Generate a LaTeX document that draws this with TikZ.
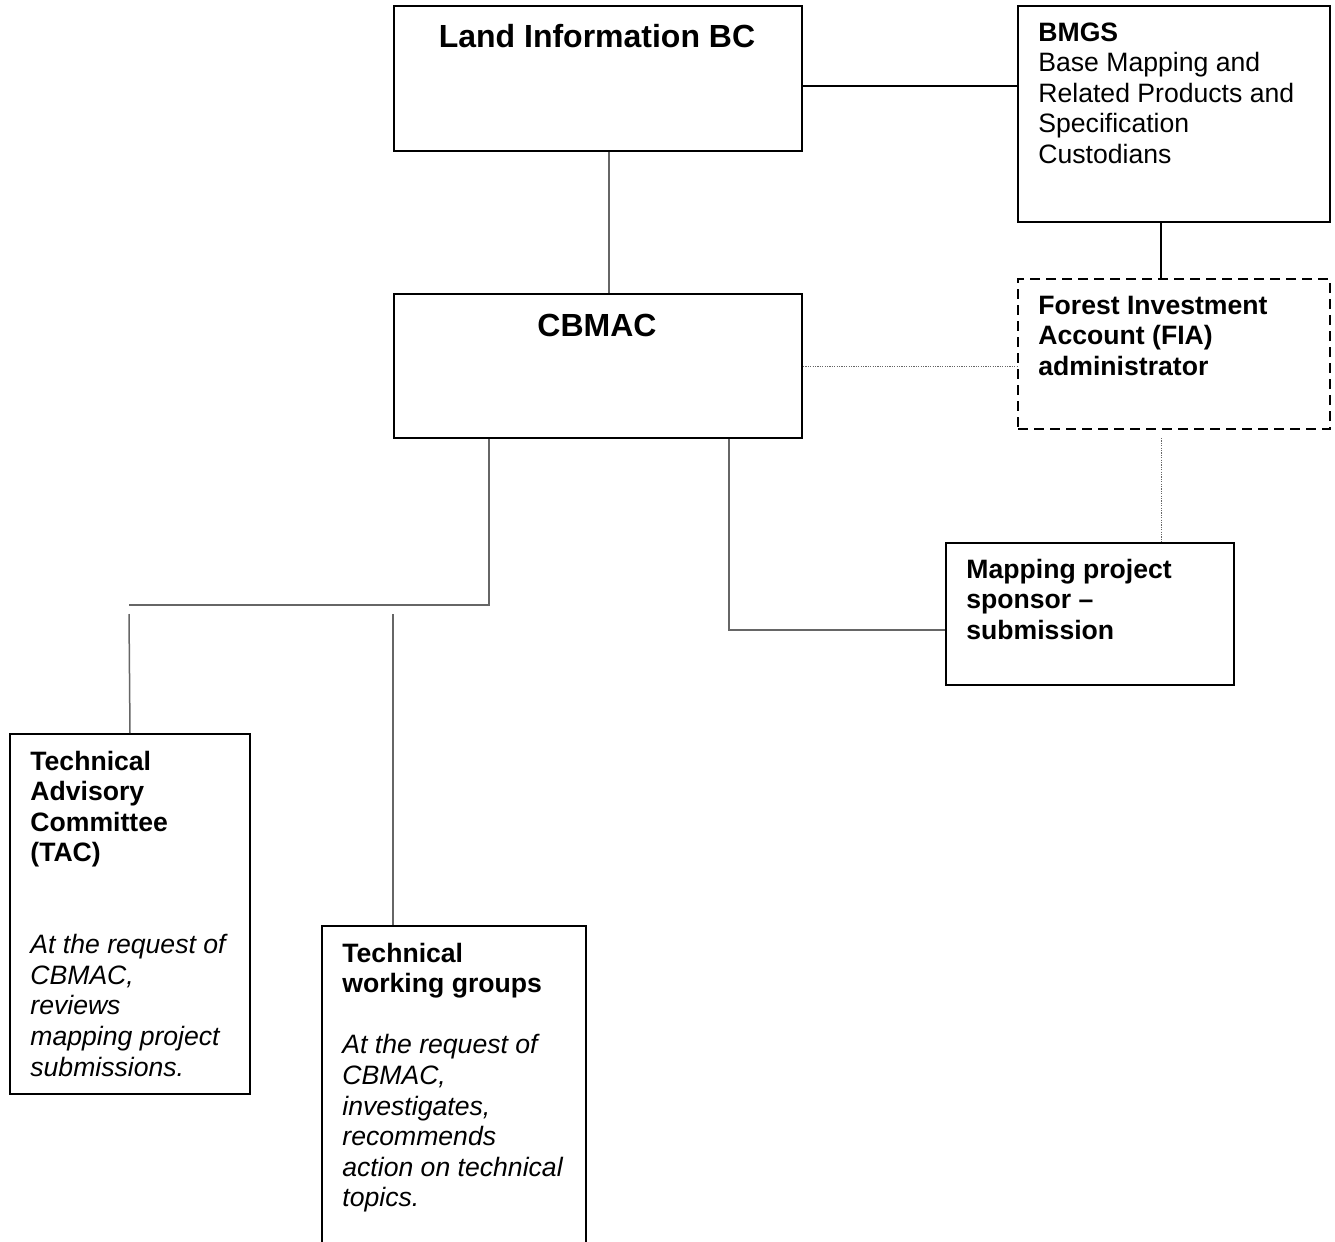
\documentclass[tikz,border=0pt]{standalone}
\usepackage{fontspec}
\setmainfont{Liberation Sans}
\begin{document}
\begin{tikzpicture}[x=0.5pt,y=-0.5pt,
  box/.style={draw=black, line width=1pt, rectangle, anchor=north west, inner sep=0pt},
  dbox/.style={box, dash pattern=on 5pt off 3pt},
  conn/.style={draw=black!60, line width=0.75pt},
  bconn/.style={draw=black, line width=0.9pt},
  dconn/.style={draw=black!60, line width=0.5pt, dash pattern=on 0.6pt off 0.6pt},
  hdr/.style={anchor=base west, inner sep=0pt, align=left, font=\fontsize{13.3}{15.3}\selectfont\bfseries},
  body/.style={anchor=base west, inner sep=0pt, align=left, font=\fontsize{13.3}{15.3}\selectfont},
  ibody/.style={anchor=base west, inner sep=0pt, align=left, font=\fontsize{13.3}{15.3}\selectfont\itshape},
  ttl/.style={anchor=base, inner sep=0pt, font=\fontsize{16}{19}\selectfont\bfseries}]
\clip (0,0) rectangle (1335,1242);
\fill[white] (0,0) rectangle (1335,1242);

% boxes (text nodes are anchored at the baseline of their LAST line)
\node[box, minimum width=204pt, minimum height=72.5pt] (libc) at (393,5) {};
\node[ttl] (libct) at (597,47) {Land Information BC};

\node[box, minimum width=156pt, minimum height=108pt] (bmgs) at (1017,5) {};
\node[hdr] (bmgst) at (1038,41) {BMGS};
\node[body] (bmgsb) at (1038,163.4) {Base Mapping and\\Related Products and\\Specification\\Custodians};

\node[box, minimum width=204pt, minimum height=72pt] (cbmac) at (393,293) {};
\node[ttl] (cbmact) at (597,336) {CBMAC};

\node[dbox, minimum width=156pt, minimum height=75pt] (fia) at (1017,278) {};
\node[hdr] (fiat) at (1038,375.2) {Forest Investment\\Account (FIA)\\administrator};

\node[box, minimum width=144pt, minimum height=71pt] (map) at (945,542) {};
\node[hdr] (mapt) at (966,639.2) {Mapping project\\sponsor --\\submission};

\node[box, minimum width=120pt, minimum height=180pt] (tac) at (9,733) {};
\node[hdr] (tact) at (30,861.8) {Technical\\Advisory\\Committee\\(TAC)};
\node[ibody] (tacb) at (30,1076) {At the request of\\CBMAC,\\reviews\\mapping project\\submissions.};

\node[box, minimum width=132pt, minimum height=175pt] (twg) at (321,925) {};
\node[hdr] (twgt) at (342,992.6) {Technical\\working groups};
\node[ibody] (twgb) at (342,1206.8) {At the request of\\CBMAC,\\investigates,\\recommends\\action on technical\\topics.};

% connectors
\coordinate (k1) at (0,86);
\draw[bconn] (libc.east |- k1) -- (bmgs.west |- k1);
\coordinate (k2) at (609,0);
\draw[conn] (libc.south -| k2) -- (cbmac.north -| k2);
\coordinate (k3) at (1161,0);
\draw[bconn] (bmgs.south -| k3) -- (fia.north -| k3);
\draw[dconn] (cbmac.east) -- (cbmac.east -| fia.west);
\draw[dconn, shorten <=4pt] (fia.south -| k3) -- (map.north -| k3);
\coordinate (k4) at (729,630);
\draw[conn] (cbmac.south -| k4) |- (map.west |- k4);
\coordinate (k5) at (489,605);
\coordinate (k6) at (129,605);
\draw[conn] (cbmac.south -| k5) -- (k5) -- (k6);
\coordinate (k7) at (129,614);
\draw[conn] (k7) -- (tac.north);
\coordinate (k8) at (393,614);
\draw[conn] (k8) -- (twg.north -| k8);
\end{tikzpicture}
\end{document}
